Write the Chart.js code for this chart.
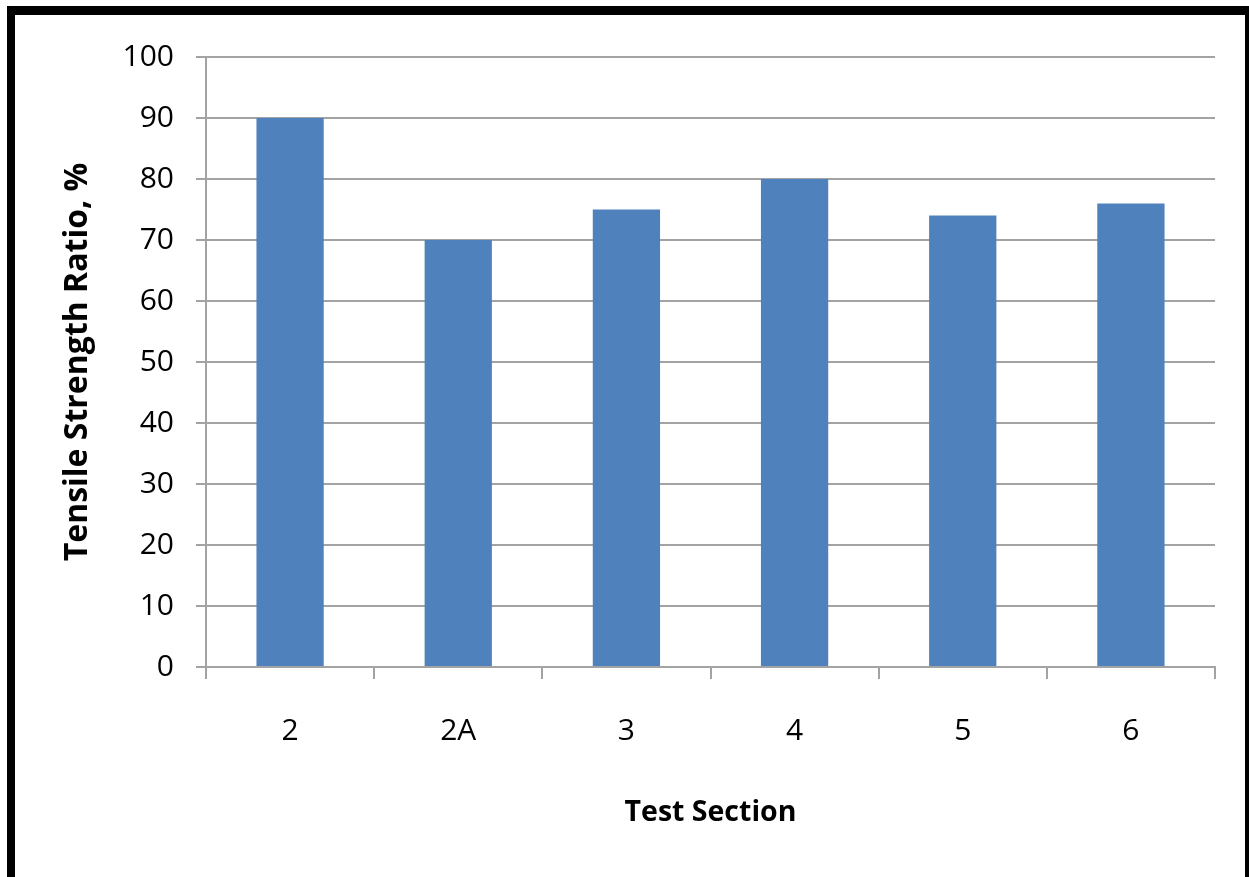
<!DOCTYPE html>
<html>
<head>
<meta charset="utf-8">
<script src="https://cdn.jsdelivr.net/npm/chart.js@4/dist/chart.umd.min.js"></script>
<style>
  html, body { margin: 0; padding: 0; background: #fff; overflow: hidden; }
  #frame {
    position: absolute; left: 7px; top: 6px; width: 1230px; height: 900px;
    border-left: 8px solid #000; border-top: 9px solid #000; border-right: 4px solid #000;
  }
  #wrap { position: absolute; left: 0; top: 0; width: 1249px; height: 877px; }
</style>
</head>
<body>
<div id="frame"></div>
<div id="wrap"><canvas id="tsrChart"></canvas></div>
<script>
// chart data
var sections = ['2', '2A', '3', '4', '5', '6'];
var tsrValues = [90, 70, 75, 80, 74, 76];
var yTicks = [0, 10, 20, 30, 40, 50, 60, 70, 80, 90, 100];

var gridGrey = '#a3a3a3';
var fam = '"Open Sans", "Noto Sans", sans-serif';
var tickFont = { family: fam, size: 30 };

document.addEventListener('DOMContentLoaded', function () {
  var ctx = document.getElementById('tsrChart');
  new Chart(ctx, {
    type: 'bar',
    data: {
      labels: sections,
      datasets: [{
        data: tsrValues,
        backgroundColor: '#4f81bd',
        borderWidth: 0,
        barPercentage: 0.4,
        categoryPercentage: 1.0
      }]
    },
    options: {
      responsive: true,
      maintainAspectRatio: false,
      animation: false,
      devicePixelRatio: 1,
      layout: { padding: { top: 57, right: 34, left: 0, bottom: 0 } },
      plugins: { legend: { display: false }, tooltip: { enabled: false } },
      scales: {
        x: {
          afterFit: function (s) { s.height = 210; },
          grid: { display: true, drawOnChartArea: false, offset: true, color: gridGrey, lineWidth: 2, tickLength: 12 },
          border: { color: gridGrey, width: 2 },
          ticks: { color: '#000', font: tickFont, padding: 34 },
          title: { display: true, text: 'Test Section', color: '#000', font: { family: fam, size: 28.5, weight: 'bold' }, padding: { top: 0, bottom: 47 } }
        },
        y: {
          min: 0, max: 100,
          afterFit: function (s) { s.width = 206; },
          afterBuildTicks: function (s) { s.ticks = yTicks.map(function (v) { return { value: v }; }); },
          grid: { color: gridGrey, lineWidth: 2, tickLength: 10 },
          border: { color: gridGrey, width: 2 },
          ticks: { color: '#000', font: tickFont, padding: 22 },
          title: { display: true, text: 'Tensile Strength Ratio, %', color: '#000', font: { family: fam, size: 32, weight: 'bold' }, padding: { top: 59, bottom: 0 } }
        }
      }
    }
  });
});
</script>
</body>
</html>
